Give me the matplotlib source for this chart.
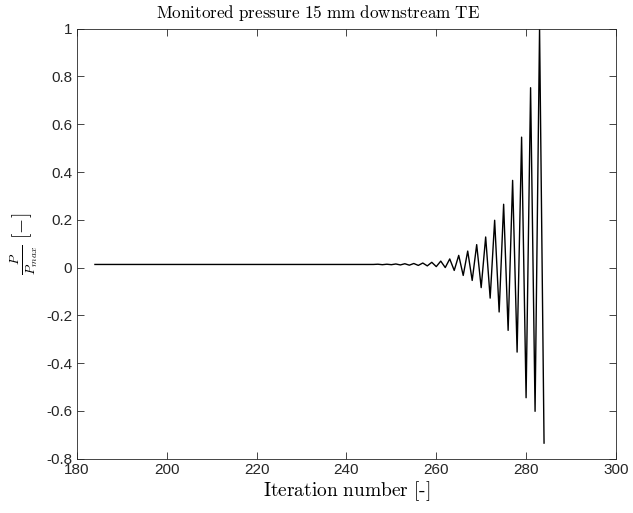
import matplotlib
matplotlib.use("Agg")
import matplotlib.pyplot as plt

# monitored pressure, normalised by its max
# flat part from iteration 184 to 245, then growing oscillation
flat_iter = [184, 245]
flat_val = [0.013, 0.013]

osc_iter = list(range(246, 285))
osc_val = [0.013, 0.014, 0.012, 0.014, 0.012, 0.015, 0.011, 0.016, 0.010,
           0.017, 0.009, 0.019, 0.007, 0.022, 0.004, 0.027, 0.000, 0.036,
           -0.012, 0.051, -0.033, 0.069, -0.054, 0.096, -0.084, 0.128,
           -0.128, 0.198, -0.186, 0.265, -0.263, 0.365, -0.354, 0.546,
           -0.545, 0.753, -0.602, 1.000, -0.735]

iters = flat_iter + osc_iter
vals = flat_val + osc_val

plt.rcParams['mathtext.fontset'] = 'cm'
plt.rcParams['axes.unicode_minus'] = False
plt.rcParams['font.family'] = ['Liberation Sans', 'DejaVu Sans']

fig = plt.figure(figsize=(6.33, 5.13), dpi=100)
ax = fig.add_axes([0.1216, 0.106, 0.8514, 0.838])

ax.plot(iters, vals, color='k', lw=1.0)

ax.set_xlim(180, 300)
ax.set_ylim(-0.8, 1.0)
ax.set_xticks(range(180, 301, 20))
ax.set_yticks([-0.8, -0.6, -0.4, -0.2, 0, 0.2, 0.4, 0.6, 0.8, 1])
ax.set_yticklabels(['-0.8', '-0.6', '-0.4', '-0.2', '0', '0.2', '0.4', '0.6', '0.8', '1'])

ax.tick_params(direction='in', top=True, right=True, length=5, width=0.6,
               labelsize=11, colors='#262626')
for s in ax.spines.values():
    s.set_linewidth(0.6)
    s.set_color('#262626')

ax.set_title(r'$\mathrm{Monitored\ pressure\ 15\ mm\ downstream\ TE}$',
             fontsize=12.3, x=0.447, pad=8)
ax.set_xlabel(r'$\mathrm{Iteration\ number\ [\text{-}]}$', fontsize=14, labelpad=1)
ax.set_ylabel(r'$\frac{P}{P_{max}}\ [-]$', fontsize=14, labelpad=4)

fig.savefig('out.png', dpi=100)
